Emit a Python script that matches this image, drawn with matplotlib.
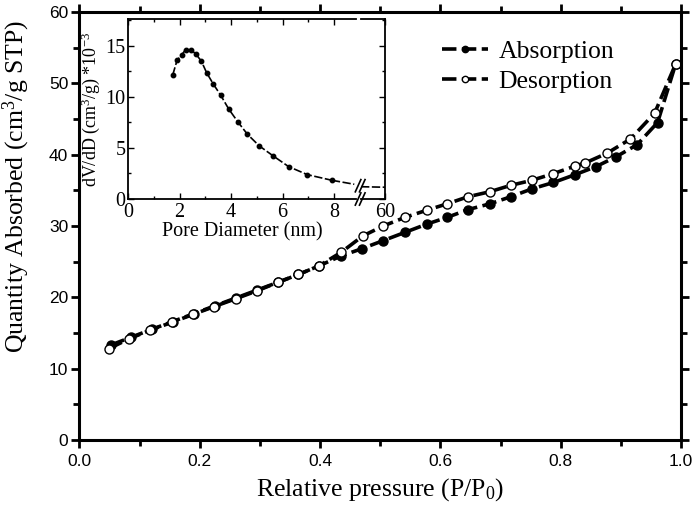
import numpy as np
import matplotlib
matplotlib.use("Agg")
from matplotlib import pyplot as plt
from matplotlib.ticker import MultipleLocator, FixedLocator

serif = "Liberation Serif"
sans = "Liberation Sans"
plt.rcParams["font.family"] = serif
plt.rcParams["mathtext.fontset"] = "custom"
plt.rcParams["mathtext.rm"] = serif
plt.rcParams["mathtext.it"] = serif + ":italic"

# isotherm data
p_abs = [0.052, 0.086, 0.120, 0.155, 0.190, 0.225, 0.260, 0.295, 0.330, 0.364, 0.398, 0.435,
         0.469, 0.505, 0.541, 0.577, 0.611, 0.646, 0.682, 0.717, 0.752, 0.788, 0.824, 0.858,
         0.892, 0.927, 0.961, 0.991]
q_abs = [13.3, 14.4, 15.5, 16.6, 17.7, 18.8, 19.9, 21.0, 22.1, 23.2, 24.4, 25.8,
         26.8, 27.95, 29.1, 30.25, 31.2, 32.3, 33.1, 34.1, 35.2, 36.1, 37.2, 38.3,
         39.7, 41.4, 44.5, 52.7]
p_des = [0.049, 0.083, 0.118, 0.154, 0.189, 0.224, 0.260, 0.295, 0.330, 0.364, 0.398, 0.435,
         0.471, 0.505, 0.541, 0.577, 0.611, 0.646, 0.682, 0.717, 0.752, 0.788, 0.824, 0.841,
         0.877, 0.916, 0.956, 0.991]
q_des = [12.8, 14.2, 15.4, 16.5, 17.6, 18.7, 19.8, 20.9, 22.1, 23.2, 24.4, 26.3,
         28.6, 30.0, 31.2, 32.2, 33.1, 34.1, 34.8, 35.7, 36.4, 37.35, 38.4, 38.85,
         40.2, 42.2, 45.8, 52.7]

# pore size distribution (inset)
d_pore = [1.73, 1.90, 2.08, 2.23, 2.43, 2.63, 2.85, 3.05, 3.31, 3.60, 3.91, 4.26, 4.63,
          5.09, 5.63, 6.23, 6.96, 7.91]
dvdd = [12.1, 13.56, 14.1, 14.6, 14.6, 14.2, 13.46, 12.35, 11.24, 10.13, 8.79, 7.55, 6.34,
        5.2, 4.22, 3.17, 2.38, 1.83]
d_tail = [7.91, 8.78]
dvdd_tail = [1.83, 1.44]
d_far = [56.0, 60.0]
dvdd_far = [1.2, 1.15]

fig = plt.figure(figsize=(6.96, 5.11), dpi=100)
ax = fig.add_axes([0.114, 0.139, 0.8645, 0.8375])

ax.plot(p_abs, q_abs, color="black", lw=2.6, ls=(0, (4, 1.5)), marker="o", ms=6.5,
        mfc="black", mec="black", label="Absorption")
ax.plot(p_des, q_des, color="black", lw=2.6, ls=(0, (4, 1.5)), marker="o", ms=6.5,
        mfc="white", mec="black", mew=1.0, label="Desorption")

ax.set_xlim(0, 1.0)
ax.set_ylim(0, 60)
ax.xaxis.set_major_locator(MultipleLocator(0.2))
ax.xaxis.set_minor_locator(MultipleLocator(0.1))
ax.yaxis.set_major_locator(MultipleLocator(10))
ax.yaxis.set_minor_locator(MultipleLocator(5))
ax.xaxis.set_major_formatter(plt.FormatStrFormatter("%.1f"))
for s in ax.spines.values():
    s.set_linewidth(2.2)
ax.tick_params(which="both", direction="in", top=True, right=True, width=2.0,
               labelfontfamily=sans, labelsize=12.5)
ax.tick_params(which="major", length=6)
ax.tick_params(which="minor", length=4)
ax.tick_params(axis="y", which="both", left=True, direction="out", pad=2)
ax.tick_params(axis="x", which="both", bottom=True, direction="out", pad=4)

ax.set_xlabel("Relative pressure (P/P$_0$)", fontsize=18.5, labelpad=5)
ax.set_ylabel("Quantity Absorbed (cm$^3$/g STP)", fontsize=18.5)
ax.yaxis.set_label_coords(-0.078, 0.593)

leg = ax.legend(loc="upper left", bbox_to_anchor=(0.603, 0.934), frameon=False,
                prop={"family": serif, "size": 18.5}, handlelength=1.8, handletextpad=0.4,
                labelspacing=0.25, borderaxespad=0, borderpad=0, markerscale=0.7)

# inset, broken x axis
ins = fig.add_axes([0.184, 0.6106, 0.3276, 0.352])
ins2 = fig.add_axes([0.5187, 0.6106, 0.0345, 0.352])

ins.plot(d_pore, dvdd, color="black", lw=1.2, ls=(0, (5, 1.5)), marker="o", ms=3.2)
ins.plot(d_tail, dvdd_tail, color="black", lw=1.2, ls=(0, (5, 1.5)))
ins2.plot(d_far, dvdd_far, color="black", lw=1.2, ls=(0, (5, 1.5)))

for a in (ins, ins2):
    a.set_ylim(0, 17.6)
    for s in a.spines.values():
        s.set_linewidth(1.3)
    a.tick_params(which="both", direction="in", top=True, width=1.0,
                  labelsize=14.5, labelfontfamily=serif, pad=2)
    a.tick_params(which="major", length=4)
    a.tick_params(which="minor", length=2.5)
    a.tick_params(axis="x", pad=3)
    a.yaxis.set_major_locator(MultipleLocator(5))
    a.yaxis.set_minor_locator(MultipleLocator(2.5))

ins.set_xlim(0, 8.85)
ins.xaxis.set_major_locator(MultipleLocator(2))
ins.xaxis.set_minor_locator(MultipleLocator(1))
ins.spines["right"].set_visible(False)
ins.tick_params(which="both", right=False)
ins.set_xlabel("Pore Diameter (nm)", fontsize=14.5, labelpad=0)
ins.set_ylabel("dV/dD (cm$^3$/g) *10$^{-3}$", fontsize=13, labelpad=2)

ins2.set_xlim(56, 60)
ins2.xaxis.set_major_locator(FixedLocator([60]))
ins2.xaxis.set_minor_locator(FixedLocator([]))
ins2.spines["left"].set_visible(False)
ins2.tick_params(which="both", left=False, labelleft=False, right=True)

# break marks
for xb in (0.5145, 0.5205):
    for yb in (0.6106, 0.6106 + 0.352 * 1.3 / 17.6):
        fig.add_artist(plt.Line2D([xb - 0.004, xb + 0.004], [yb - 0.012, yb + 0.012],
                                  color="black", lw=1.2, transform=fig.transFigure))

fig.savefig("out.png", dpi=100)
